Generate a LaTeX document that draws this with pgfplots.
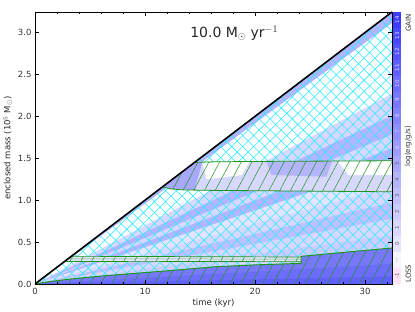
\documentclass[border=0pt]{standalone}
\usepackage{fontspec}
\setmainfont{DejaVu Sans}
\usepackage{pgfplots}
\pgfplotsset{compat=1.18}
\usetikzlibrary{patterns.meta}
\definecolor{L0}{RGB}{228,228,255}
\definecolor{L1}{RGB}{216,216,255}
\definecolor{L2}{RGB}{204,204,255}
\definecolor{L3}{RGB}{192,192,255}
\definecolor{L4}{RGB}{180,180,255}
\definecolor{L5}{RGB}{168,168,255}
\definecolor{L6}{RGB}{156,156,255}
\definecolor{L7}{RGB}{144,144,255}
\definecolor{L8}{RGB}{132,132,255}
\definecolor{L9}{RGB}{120,120,255}
\definecolor{L10}{RGB}{108,108,255}
\definecolor{L11}{RGB}{96,96,255}
\definecolor{L12}{RGB}{84,84,255}
\definecolor{L13}{RGB}{72,72,255}
\definecolor{L14}{RGB}{60,60,255}
\definecolor{LW}{RGB}{246,246,255}
\definecolor{pinkc}{RGB}{255,228,248}
\definecolor{gr}{RGB}{30,150,30}
\definecolor{cy}{RGB}{40,235,255}
\begin{document}
\begin{tikzpicture}
\path[use as bounding box] (-35pt,-28pt) rectangle (380pt,284pt);
\begin{axis}[at={(0pt,0pt)}, anchor=south west, scale only axis,
  width=357pt, height=272pt,
  xmin=0, xmax=32.45, ymin=0, ymax=3.245,
  xtick={0,10,20,30}, minor xtick={2,4,6,8,12,14,16,18,22,24,26,28,32},
  ytick={0,0.5,1.0,1.5,2.0,2.5,3.0},
  yticklabel style={/pgf/number format/.cd, fixed, fixed zerofill, precision=1},
  /pgf/number format/assume math mode=true,
  tick align=inside, major tick length=4pt, minor tick length=2pt,
  tick style={black, line width=0.5pt},
  axis line style={black, line width=0.6pt},
  ticklabel style={font=\fontsize{8.5}{10}\selectfont, text=black!80},
  xticklabel style={yshift=-1pt},
  xlabel={time (kyr)}, ylabel={enclosed mass (10$^5$ M$_\odot$)},
  label style={font=\fontsize{8.5}{10}\selectfont, text=black!85},
  xlabel style={at={(axis description cs:0.5,0)}, anchor=center, yshift=-19pt},
  ylabel style={at={(axis description cs:0,0.5)}, anchor=center, rotate=0, yshift=27pt},
  axis on top, clip=true]
% base region above bottom boundary
\addplot[fill=L1, draw=none] coordinates {(0,0) (1,0.022) (2,0.04) (3,0.056) (4.5,0.076) (6.5,0.1) (9.1,0.127) (11.5,0.152) (13.6,0.175) (16.4,0.206) (20,0.228) (24.2,0.246) (24.2,0.33) (27.7,0.373) (32.45,0.43) (32.45,3.245)} -- cycle;
% wedges
\addplot[fill=L2, draw=none] coordinates {(0,0) (32.45,0.45) (32.45,0.584)} -- cycle;
\addplot[fill=L1, draw=none] coordinates {(0,0) (32.45,0.584) (32.45,0.779)} -- cycle;
\addplot[fill=L3, draw=none] coordinates {(0,0) (32.45,0.779) (32.45,0.974)} -- cycle;
\addplot[fill=L1, draw=none] coordinates {(0,0) (32.45,0.974) (32.45,1.168)} -- cycle;
\addplot[fill=L0, draw=none] coordinates {(0,0) (32.45,1.168) (32.45,1.428)} -- cycle;
\addplot[fill=L4, draw=none] coordinates {(0,0) (32.45,1.428) (32.45,1.623)} -- cycle;
\addplot[fill=L1, draw=none] coordinates {(0,0) (32.45,1.623) (32.45,1.785)} -- cycle;
\addplot[fill=L4, draw=none] coordinates {(0,0) (32.45,1.785) (32.45,2.012)} -- cycle;
\addplot[fill=L1, draw=none] coordinates {(0,0) (32.45,2.012) (32.45,2.272)} -- cycle;
\addplot[fill=white, draw=none] coordinates {(0,0) (32.45,2.272) (32.45,3.115)} -- cycle;
\addplot[fill=L4, draw=none] coordinates {(0,0) (32.45,3.115) (32.45,3.245)} -- cycle;
% bottom region
\addplot[fill=L9, draw=none] coordinates {(0,0) (1,0.022) (2,0.04) (3,0.056) (4.5,0.076) (6.5,0.1) (9.1,0.127) (11.5,0.152) (13.6,0.175) (16.4,0.206) (20,0.228) (24.2,0.246) (24.2,0.33) (27.7,0.373) (32.45,0.43) (32.45,0)} -- cycle;
\addplot[fill=L10, draw=none] coordinates {(0,0) (32.45,0.24) (32.45,0)} -- cycle;
\addplot[fill=L11, draw=none] coordinates {(0,0) (32.45,0.09) (32.45,0)} -- cycle;
% cyan cross hatch
\addplot[draw=none, pattern={Hatch[angle=45,distance=7.8pt,line width=0.55pt]}, pattern color=cy] coordinates {(0,0) (1,0.022) (2,0.04) (3,0.056) (4.5,0.076) (6.5,0.1) (9.1,0.127) (11.5,0.152) (13.6,0.175) (16.4,0.206) (20,0.228) (24.2,0.246) (24.2,0.33) (27.7,0.373) (32.45,0.43) (32.45,3.245)} -- cycle;
% upper band background
\addplot[fill=L1, draw=none] coordinates {(11.6,1.16) (12.3,1.135) (13.5,1.122) (16,1.117) (20,1.113) (26,1.107) (32.45,1.10) (32.45,1.47) (26,1.466) (20,1.462) (16,1.457) (14.5,1.45)} -- cycle;
\addplot[fill=L5, draw=none] coordinates {(11.6,1.16) (12.3,1.135) (14.5,1.12) (15.2,1.45) (14.5,1.45)} -- cycle;
\addplot[fill=white, draw=none] coordinates {(15.2,1.45) (15.6,1.25) (18.8,1.30) (19.5,1.46)} -- cycle;
\addplot[fill=L4, draw=none] coordinates {(21,1.462) (21.5,1.3) (26.5,1.28) (27,1.466)} -- cycle;
\addplot[fill=white, draw=none] coordinates {(27.5,1.466) (28.5,1.3) (32.45,1.3) (32.45,1.47)} -- cycle;
\addplot[draw=none, pattern={Lines[angle=62,distance=9.5pt,line width=0.5pt]}, pattern color=gr] coordinates {(11.6,1.16) (12.3,1.135) (13.5,1.122) (16,1.117) (20,1.113) (26,1.107) (32.45,1.10) (32.45,1.47) (26,1.466) (20,1.462) (16,1.457) (14.5,1.45)} -- cycle;
\addplot[gr, line width=0.8pt] coordinates {(11.6,1.16) (12.3,1.135) (13.5,1.122) (16,1.117) (20,1.113) (26,1.107) (32.45,1.10)};
\addplot[gr, line width=0.8pt] coordinates {(14.5,1.45) (16,1.457) (20,1.462) (26,1.466) (32.45,1.47)};
% thin band
\addplot[fill=L0, draw=none] coordinates {(2.68,0.268) (10,0.27) (24.2,0.266) (24.2,0.322) (10,0.328) (3.3,0.33)} -- cycle;
\addplot[draw=none, pattern={Lines[angle=62,distance=9.5pt,line width=0.5pt]}, pattern color=gr] coordinates {(2.68,0.268) (10,0.27) (24.2,0.266) (24.2,0.322) (10,0.328) (3.3,0.33)} -- cycle;
\addplot[gr, line width=0.7pt] coordinates {(2.68,0.268) (10,0.27) (24.2,0.266)};
\addplot[gr, line width=0.7pt] coordinates {(3.3,0.33) (10,0.328) (24.2,0.322)};
\addplot[gr!70, line width=0.5pt] coordinates {(3.0,0.30) (24.2,0.297)};
% bottom region hatch and boundary
\addplot[draw=none, pattern={Lines[angle=62,distance=9.5pt,line width=0.5pt]}, pattern color=gr] coordinates {(0,0) (1,0.022) (2,0.04) (3,0.056) (4.5,0.076) (6.5,0.1) (9.1,0.127) (11.5,0.152) (13.6,0.175) (16.4,0.206) (20,0.228) (24.2,0.246) (24.2,0.33) (27.7,0.373) (32.45,0.43) (32.45,0)} -- cycle;
\addplot[gr, line width=1pt] coordinates {(0,0) (1,0.022) (2,0.04) (3,0.056) (4.5,0.076) (6.5,0.1) (9.1,0.127) (11.5,0.152) (13.6,0.175) (16.4,0.206) (20,0.228) (24.2,0.246) (24.2,0.33) (27.7,0.373) (32.45,0.43)};
% outer black boundary
\addplot[black, line width=1.6pt] coordinates {(0,0) (32.45,3.245)};
\node[font=\fontsize{14}{16}\selectfont, text=black!85] at (axis cs:18.1,2.99) {10.0 M$_\odot$ yr$^{-1}$};
\end{axis}
\begin{axis}[at={(358pt,0pt)}, anchor=south west, scale only axis,
  width=8pt, height=272pt, xmin=0, xmax=1, ymin=0, ymax=17, hide axis, clip=false]
\addplot[fill=pinkc, draw=none] coordinates {(0,0) (1,0) (1,1) (0,1)} -- cycle;
\addplot[fill=LW, draw=none] coordinates {(0,1) (1,1) (1,2) (0,2)} -- cycle;
\addplot[fill=L0, draw=none] coordinates {(0,2) (1,2) (1,3) (0,3)} -- cycle;
\addplot[fill=L1, draw=none] coordinates {(0,3) (1,3) (1,4) (0,4)} -- cycle;
\addplot[fill=L2, draw=none] coordinates {(0,4) (1,4) (1,5) (0,5)} -- cycle;
\addplot[fill=L3, draw=none] coordinates {(0,5) (1,5) (1,6) (0,6)} -- cycle;
\addplot[fill=L4, draw=none] coordinates {(0,6) (1,6) (1,7) (0,7)} -- cycle;
\addplot[fill=L5, draw=none] coordinates {(0,7) (1,7) (1,8) (0,8)} -- cycle;
\addplot[fill=L6, draw=none] coordinates {(0,8) (1,8) (1,9) (0,9)} -- cycle;
\addplot[fill=L7, draw=none] coordinates {(0,9) (1,9) (1,10) (0,10)} -- cycle;
\addplot[fill=L8, draw=none] coordinates {(0,10) (1,10) (1,11) (0,11)} -- cycle;
\addplot[fill=L9, draw=none] coordinates {(0,11) (1,11) (1,12) (0,12)} -- cycle;
\addplot[fill=L10, draw=none] coordinates {(0,12) (1,12) (1,13) (0,13)} -- cycle;
\addplot[fill=L11, draw=none] coordinates {(0,13) (1,13) (1,14) (0,14)} -- cycle;
\addplot[fill=L12, draw=none] coordinates {(0,14) (1,14) (1,15) (0,15)} -- cycle;
\addplot[fill=L13, draw=none] coordinates {(0,15) (1,15) (1,16) (0,16)} -- cycle;
\addplot[fill=L14, draw=none] coordinates {(0,16) (1,16) (1,17) (0,17)} -- cycle;
\begin{scope}[every node/.style={rotate=90, font=\fontsize{5.5}{6}\selectfont, inner sep=0pt}]
\node[text=black!60] at (axis cs:0.5,0.5) {-1};
\node[text=black!60] at (axis cs:0.5,1.5) {...};
\node[text=black!60] at (axis cs:0.5,2.5) {0};
\node[text=black!60] at (axis cs:0.5,3.5) {1};
\node[text=black!60] at (axis cs:0.5,4.5) {2};
\node[text=black!60] at (axis cs:0.5,5.5) {3};
\node[text=black!60] at (axis cs:0.5,6.5) {4};
\node[text=black!60] at (axis cs:0.5,7.5) {5};
\node[text=L1] at (axis cs:0.5,8.5) {6};
\node[text=L1] at (axis cs:0.5,9.5) {7};
\node[text=L1] at (axis cs:0.5,10.5) {8};
\node[text=L1] at (axis cs:0.5,11.5) {9};
\node[text=L1] at (axis cs:0.5,12.5) {10};
\node[text=L1] at (axis cs:0.5,13.5) {11};
\node[text=L1] at (axis cs:0.5,14.5) {12};
\node[text=L1] at (axis cs:0.5,15.5) {13};
\node[text=L1] at (axis cs:0.5,16.5) {14};
\end{scope}
\begin{scope}[every node/.style={rotate=90, font=\fontsize{7}{8}\selectfont, text=black!80, inner sep=0pt}]
\node at (axis cs:1.9,16.3) {GAIN};
\node at (axis cs:1.9,8.6) {log(erg/g/s)};
\node at (axis cs:1.9,0.65) {LOSS};
\end{scope}
\end{axis}
\end{tikzpicture}
\end{document}
